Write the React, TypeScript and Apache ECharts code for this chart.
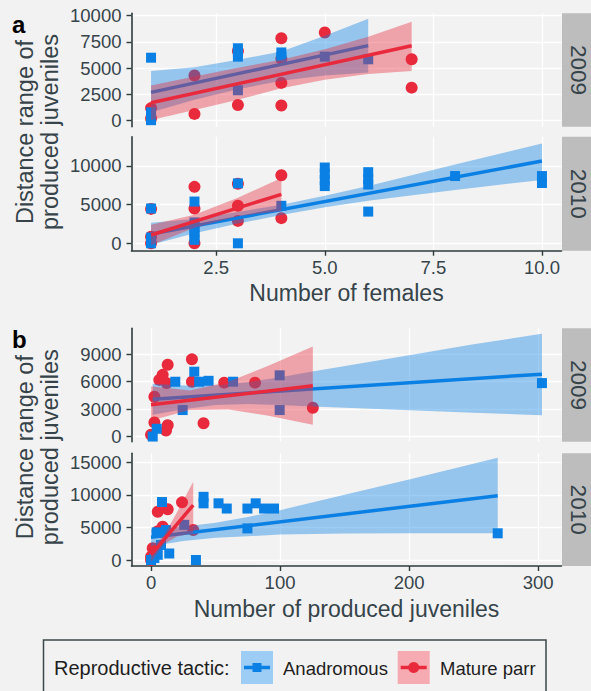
import React, { useEffect, useRef } from 'react';
import * as echarts from 'echarts';

// ---------- data ----------
const aXTicks = [2.5, 5, 7.5, 10];
const bXTicks = [0, 100, 200, 300];
const a09YTicks = [0, 2500, 5000, 7500, 10000];
const a10YTicks = [0, 5000, 10000];
const b09YTicks = [0, 3000, 6000, 9000];
const b10YTicks = [0, 5000, 10000, 15000];

const years = ['2009', '2010'];
const tactics = ['Anadromous', 'Mature parr'];

// panel a: number of females vs distance range
const a09Anad = [[1, 6000], [1, 50], [1, 400], [1, 800], [3, 6900], [3, 6500], [3, 6100], [3, 2900], [4, 6500], [4, 6100], [5, 6100], [6, 5850]];
const a09Parr = [[1, 200], [1, 1200], [2, 4300], [2, 650], [3, 6650], [3, 1500], [4, 7850], [4, 5900], [4, 3600], [4, 1450], [5, 8400], [7, 5850], [7, 3150]];
const a10Anad = [[1, 4500], [1, 0], [1, 350], [1, 750], [2, 5400], [2, 2700], [2, 2100], [2, 1500], [2, 950], [2, 450], [3, 7750], [3, 0], [4, 4850], [5, 9800], [5, 9000], [5, 8200], [5, 7400], [6, 9200], [6, 8300], [6, 7600], [6, 4100], [8, 8700], [10, 8700], [10, 7800]];
const a10Parr = [[1, 4450], [1, 850], [1, 0], [2, 7300], [2, 4500], [2, 0], [3, 7700], [3, 4850], [3, 2900], [4, 8800], [4, 3250]];

// panel b: number of produced juveniles vs distance range
const b09Anad = [[1.3, 0], [4.4, 850], [18.8, 6000], [24.5, 2900], [33.5, 7100], [37.3, 6000], [44.6, 6100], [63.6, 6000], [99.7, 6700], [99.7, 2900], [303, 5850]];
const b09Parr = [[0, 200], [2.6, 1550], [2.6, 4350], [6.4, 6200], [9, 6750], [12.9, 7850], [12.1, 5850], [11.6, 650], [12.9, 1250], [31.7, 8450], [31.7, 6000], [40.7, 1450], [56.7, 5900], [80.6, 5900], [125.4, 3150]];
const b10Anad = [[0, 0], [2.6, 300], [5.2, 800], [7.7, 2300], [4.4, 4250], [8.5, 8900], [11.6, 4600], [14.1, 1000], [25.7, 5400], [34.8, 0], [40.7, 9700], [40.7, 8700], [52.3, 8700], [58.7, 7900], [74.7, 7900], [74.7, 4850], [81.1, 8700], [87.6, 7900], [95.3, 7900], [268.7, 4100]];
const b10Parr = [[0, 0], [0, 500], [1.3, 1800], [2.6, 1000], [5.2, 7400], [12.9, 7800], [24, 8850], [9, 5100], [7.7, 4350], [5.2, 4400], [32.7, 4600]];

// fitted lines (end points)
const a09AnadFit = [[1, 2700], [6, 7150]];
const a09ParrFit = [[1, 1710], [7, 7140]];
const a10AnadFit = [[1, 1200], [10, 10640]];
const a10ParrFit = [[1, 1070], [4, 6330]];
const b09AnadFit = [[1.3, 4090], [303, 6830]];
const b09ParrFit = [[0, 3470], [125.4, 5550]];
const b10AnadFit = [[0, 3480], [268.7, 9870]];
const b10ParrFit = [[0, 770], [32.7, 8440]];

// confidence bands
const a09AnadBandX = [1, 2, 3, 4, 5, 6];
const a09AnadBandLo = [800, 2000, 3000, 3800, 4300, 4600];
const a09AnadBandHi = [4730, 5100, 5800, 6600, 8100, 9700];
const a09ParrBandX = [1, 2, 3, 4, 5, 6, 7];
const a09ParrBandLo = [70, 1020, 2000, 3080, 3900, 4450, 4730];
const a09ParrBandHi = [3350, 4200, 5050, 5800, 6800, 8000, 9430];
const a10AnadBandX = [1, 2, 3, 4, 5, 6, 8, 10];
const a10AnadBandLo = [-200, 1300, 2550, 3650, 4650, 5500, 6900, 8200];
const a10AnadBandHi = [2650, 3150, 4050, 5000, 6150, 7400, 10200, 12900];
const a10ParrBandX = [1, 2, 3, 4];
const a10ParrBandLo = [-250, 2000, 3500, 4180];
const a10ParrBandHi = [2400, 3700, 5900, 8450];
const b09AnadBandX = [1.3, 25, 50, 75, 100, 125, 200, 250, 303];
const b09AnadBandLo = [2390, 3000, 3450, 3550, 3450, 3290, 2890, 2600, 2340];
const b09AnadBandHi = [5790, 5600, 5600, 5950, 6500, 7120, 8900, 10100, 11250];
const b09ParrBandX = [0, 30, 60, 90, 125.4];
const b09ParrBandLo = [1750, 2900, 2950, 2300, 1280];
const b09ParrBandHi = [5500, 5050, 6000, 7700, 9850];
const b10AnadBandX = [0, 25, 50, 75, 100, 150, 200, 268.7];
const b10AnadBandLo = [2100, 2900, 3400, 3650, 3900, 4050, 4100, 4090];
const b10AnadBandHi = [4750, 5100, 5700, 6600, 7650, 10000, 12350, 15690];
const b10ParrBandX = [0, 10, 20, 32.7];
const b10ParrBandLo = [-300, 2450, 3600, 4090];
const b10ParrBandHi = [1850, 3750, 7300, 12010];

// ---------- styles ----------
const BLUE = '#0b80e4';
const RED = '#e92a3c';
const BLUE_BAND = 'rgba(11,128,228,0.4)';
const RED_BAND = 'rgba(233,42,60,0.4)';
const INK = '#36444a';
const AXIS = '#2f3b3b';
const FONT = '"Liberation Sans", Arial, Helvetica, sans-serif';

const GL = 131.5;
const GW = 430;
const grids = [
  { top: 13.3, height: 113.4 },
  { top: 136.7, height: 114 },
  { top: 328.3, height: 113.4 },
  { top: 453.3, height: 112.7 },
];
const xRanges = [[0.55, 10.45], [0.55, 10.45], [-15.15, 318.15], [-15.15, 318.15]];
const yRanges = [[-571, 10229], [-957, 13788], [-564, 11847], [-920, 16380]];
const xTickSets = [aXTicks, aXTicks, bXTicks, bXTicks];
const yTickSets = [a09YTicks, a10YTicks, b09YTicks, b10YTicks];

const panels = [
  { anad: a09Anad, parr: a09Parr, anadFit: a09AnadFit, parrFit: a09ParrFit,
    ab: [a09AnadBandX, a09AnadBandLo, a09AnadBandHi], pb: [a09ParrBandX, a09ParrBandLo, a09ParrBandHi] },
  { anad: a10Anad, parr: a10Parr, anadFit: a10AnadFit, parrFit: a10ParrFit,
    ab: [a10AnadBandX, a10AnadBandLo, a10AnadBandHi], pb: [a10ParrBandX, a10ParrBandLo, a10ParrBandHi] },
  { anad: b09Anad, parr: b09Parr, anadFit: b09AnadFit, parrFit: b09ParrFit,
    ab: [b09AnadBandX, b09AnadBandLo, b09AnadBandHi], pb: [b09ParrBandX, b09ParrBandLo, b09ParrBandHi] },
  { anad: b10Anad, parr: b10Parr, anadFit: b10AnadFit, parrFit: b10ParrFit,
    ab: [b10AnadBandX, b10AnadBandLo, b10AnadBandHi], pb: [b10ParrBandX, b10ParrBandLo, b10ParrBandHi] },
];

function bandSeries(band: number[][], fill: string, g: number, z: number) {
  const [xs, lo, hi] = band;
  return {
    type: 'custom',
    xAxisIndex: g,
    yAxisIndex: g,
    z,
    silent: true,
    clip: true,
    data: xs.map((x, i) => [x, lo[i], hi[i]]),
    encode: { x: 0, y: 1 },
    renderItem: (params: any, api: any) => {
      if (params.dataIndex !== 0) return null;
      const pts: number[][] = [];
      for (let i = 0; i < xs.length; i++) pts.push(api.coord([xs[i], hi[i]]));
      for (let i = xs.length - 1; i >= 0; i--) pts.push(api.coord([xs[i], lo[i]]));
      return { type: 'polygon', shape: { points: pts }, style: { fill } };
    },
  };
}

function buildOption() {
  const grid = grids.map((g) => ({
    left: GL, top: g.top, width: GW, height: g.height,
    containLabel: false, outerBoundsMode: 'none',
  }));

  const xAxis = grids.map((_, i) => {
    const bottom = i === 1 || i === 3;
    const ticks = xTickSets[i];
    return {
      type: 'value', gridIndex: i, min: xRanges[i][0], max: xRanges[i][1],
      axisLine: { show: bottom, onZero: false, lineStyle: { color: AXIS, width: 1.6 } },
      axisTick: { show: bottom, customValues: ticks, length: 5, lineStyle: { color: AXIS, width: 1.4 } },
      axisLabel: {
        show: bottom, customValues: ticks, margin: 7, color: INK, fontSize: 18.5, fontFamily: FONT,
        formatter: (v: number) => (i < 2 ? v.toFixed(1) : String(v)),
      },
      splitLine: { show: true, lineStyle: { color: '#ffffff', width: 1.3 } },
    };
  });

  const yAxis = grids.map((_, i) => {
    const ticks = yTickSets[i];
    return {
      type: 'value', gridIndex: i, min: yRanges[i][0], max: yRanges[i][1],
      axisLine: { show: true, onZero: false, lineStyle: { color: AXIS, width: 1.6 } },
      axisTick: { show: true, customValues: ticks, length: 5, lineStyle: { color: AXIS, width: 1.4 } },
      axisLabel: {
        show: true, customValues: ticks, margin: 10, color: INK, fontSize: 18.5, fontFamily: FONT,
        formatter: (v: number) => String(v),
      },
      splitLine: { show: true, lineStyle: { color: '#ffffff', width: 1.3 } },
    };
  });

  const series: any[] = [];
  panels.forEach((p, g) => {
    series.push({
      type: 'scatter', name: tactics[1], xAxisIndex: g, yAxisIndex: g, z: 2, silent: true,
      symbol: 'circle', symbolSize: 12, itemStyle: { color: RED, opacity: 1 }, data: p.parr,
    });
    series.push({
      type: 'scatter', name: tactics[0], xAxisIndex: g, yAxisIndex: g, z: 3, silent: true,
      symbol: 'rect', symbolSize: 10, itemStyle: { color: BLUE, opacity: 1 }, data: p.anad,
    });
    series.push(bandSeries(p.ab, BLUE_BAND, g, 4));
    series.push({
      type: 'line', xAxisIndex: g, yAxisIndex: g, z: 5, silent: true, showSymbol: false, symbol: 'none',
      lineStyle: { color: BLUE, width: 3.5 }, data: p.anadFit,
    });
    series.push(bandSeries(p.pb, RED_BAND, g, 6));
    series.push({
      type: 'line', xAxisIndex: g, yAxisIndex: g, z: 7, silent: true, showSymbol: false, symbol: 'none',
      lineStyle: { color: RED, width: 3.5 }, data: p.parrFit,
    });
  });

  const graphic: any[] = [];
  const txt = (x: number, y: number, text: string, size: number, opts: any = {}) => ({
    type: 'text', x, y, rotation: opts.rotation || 0, silent: true, z: 100,
    style: {
      text, fill: opts.fill || INK, font: `${opts.weight || 'normal'} ${size}px ${FONT}`,
      align: opts.align || 'center', textAlign: opts.align || 'center',
      verticalAlign: 'middle', textVerticalAlign: 'middle',
      lineHeight: opts.lineHeight || Math.round(size * 1.15),
    },
  });

  // strips
  grids.forEach((g, i) => {
    graphic.push({ type: 'rect', silent: true, z: 90, shape: { x: 562, y: g.top, width: 29, height: g.height }, style: { fill: '#bdbdbd' } });
    graphic.push(txt(578.5, g.top + g.height / 2, years[i % 2], 22.5, { rotation: -Math.PI / 2, lineHeight: 18 }));
  });

  // panel tags
  graphic.push(txt(12, 24.5, 'a', 24, { weight: 'bold', align: 'left', fill: '#000' }));
  graphic.push(txt(12, 339.5, 'b', 24, { weight: 'bold', align: 'left', fill: '#000' }));

  // y titles
  [[13.3, 250.7], [328.3, 566]].forEach(([t, b]) => {
    const cy = (t + b) / 2;
    graphic.push(txt(24.5, cy, 'Distance range of', 23.5, { rotation: Math.PI / 2 }));
    graphic.push(txt(50, cy, 'produced juveniles', 23.5, { rotation: Math.PI / 2 }));
  });
  // x titles
  graphic.push(txt(346.5, 292.5, 'Number of females', 23));
  graphic.push(txt(346.5, 609.2, 'Number of produced juveniles', 23));

  // legend
  graphic.push({ type: 'rect', silent: true, z: 90, shape: { x: 43.5, y: 640, width: 502.5, height: 60 }, style: { fill: 'none', stroke: '#3d4848', lineWidth: 1.5 } });
  graphic.push(txt(54, 668, 'Reproductive tactic:', 20, { align: 'left', fill: '#1e1e1e' }));
  graphic.push({ type: 'rect', silent: true, z: 90, shape: { x: 241, y: 651, width: 32, height: 33 }, style: { fill: '#9dccf4' } });
  graphic.push({ type: 'line', silent: true, z: 91, shape: { x1: 244, y1: 667.5, x2: 270, y2: 667.5 }, style: { stroke: BLUE, lineWidth: 3.5 } });
  graphic.push({ type: 'rect', silent: true, z: 92, shape: { x: 252.5, y: 663, width: 9, height: 9 }, style: { fill: BLUE } });
  graphic.push(txt(283, 668, tactics[0], 18.5, { align: 'left', fill: '#1e1e1e' }));
  graphic.push({ type: 'rect', silent: true, z: 90, shape: { x: 397.7, y: 651, width: 32, height: 33 }, style: { fill: '#f6aab1' } });
  graphic.push({ type: 'line', silent: true, z: 91, shape: { x1: 400.7, y1: 667.5, x2: 426.7, y2: 667.5 }, style: { stroke: RED, lineWidth: 3.5 } });
  graphic.push({ type: 'circle', silent: true, z: 92, shape: { cx: 413.7, cy: 667.5, r: 5.5 }, style: { fill: RED } });
  graphic.push(txt(440, 668, tactics[1], 18.5, { align: 'left', fill: '#1e1e1e' }));

  return {
    animation: false,
    backgroundColor: '#f2f2f2',
    textStyle: { fontFamily: FONT },
    grid, xAxis, yAxis, series, graphic,
  };
}

export default function App() {
  const ref = useRef<HTMLDivElement>(null);
  useEffect(() => {
    if (!ref.current) return;
    const chart = echarts.init(ref.current, null, { renderer: 'svg' });
    chart.setOption(buildOption() as any);
    return () => chart.dispose();
  }, []);
  return (
    <div
      ref={ref}
      style={{ position: 'absolute', left: 0, top: 0, width: 591, height: 691, background: '#f2f2f2' }}
    />
  );
}
